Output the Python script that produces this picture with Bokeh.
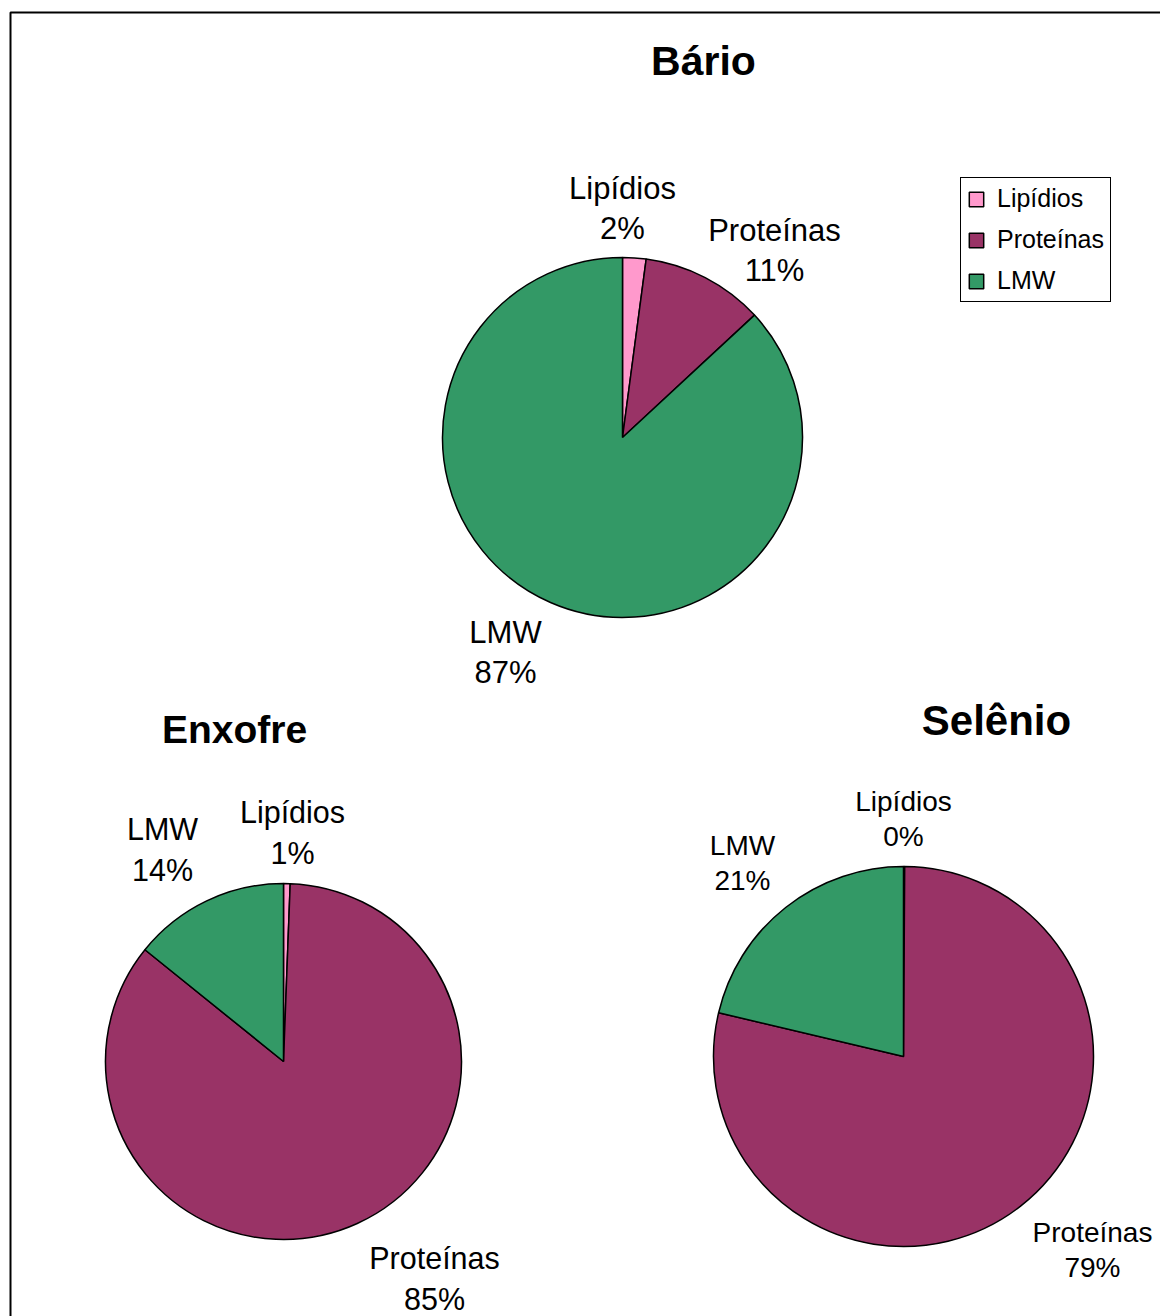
import numpy as np
from bokeh.plotting import figure
from bokeh.models import Range1d, ColumnDataSource, Legend, LegendItem
from bokeh.core.properties import value
from bokeh.embed import file_html
from bokeh.resources import INLINE

# ---------------- data ----------------
categories = ["Lipídios", "Proteínas", "LMW"]
colors = ["#FF99CC", "#993366", "#339966"]
titles = ["Bário", "Enxofre", "Selênio"]
bario = [2.1, 11.0, 86.9]
enxofre = [0.6, 85.2, 14.2]
selenio = [0.1, 78.6, 21.3]
series = [bario, enxofre, selenio]

# ---------------- layout (page pixel coordinates) ----------------
W, H = 1160, 1316
def fx(px):
    return px
def fy(py):
    return H - py

layout = [
    dict(center=(622, 437), r=180, title=(703, 60), tsize="41px",
         labels=[(622, 188), (774, 230), (505, 632)], lsize="31px", gap=40),
    dict(center=(283, 1061), r=178, title=(234, 729), tsize="39px",
         labels=[(292, 811), (434, 1257), (162, 828)], lsize="30.5px", gap=41),
    dict(center=(903, 1056), r=190, title=(996, 720), tsize="42px",
         labels=[(903, 801), (1092, 1232), (742, 845)], lsize="28px", gap=35),
]

p = figure(width=W, height=H, output_backend="svg", toolbar_location=None,
           x_axis_type=None, y_axis_type=None,
           x_range=Range1d(0, W), y_range=Range1d(0, H), min_border=0)
p.grid.visible = False
p.outline_line_color = None
p.background_fill_color = "white"

# outer border
p.quad(left=[fx(10)], right=[fx(2000)], top=[fy(12)], bottom=[fy(2000)],
       fill_color=None, line_color="black", line_width=2)

font = value("Liberation Sans")
bario_renderer = None
for vals, title, lay in zip(series, titles, layout):
    v = np.array(vals, dtype=float)
    frac = v / v.sum()
    c1 = np.cumsum(frac)
    c0 = c1 - frac
    start = np.pi / 2 - 2 * np.pi * c1
    end = np.pi / 2 - 2 * np.pi * c0
    cx, cy = lay["center"]
    src = ColumnDataSource(dict(x=[fx(cx)] * 3, y=[fy(cy)] * 3, start=start, end=end,
                                color=colors, cat=categories))
    r = p.wedge(x="x", y="y", radius=lay["r"], start_angle="start", end_angle="end",
                fill_color="color", line_color="black", line_width=1.5, source=src)
    if bario_renderer is None:
        bario_renderer = r
    # title
    tx, ty = lay["title"]
    p.text(x=[fx(tx)], y=[fy(ty)], text=[title], text_font=font, text_font_style="bold",
           text_font_size=lay["tsize"], text_align="center", text_baseline="middle",
           text_color="black")
    # labels
    lx = [fx(a) for a, b in lay["labels"]]
    ly1 = [fy(b) for a, b in lay["labels"]]
    ly2 = [fy(b + lay["gap"]) for a, b in lay["labels"]]
    pct = [f"{int(round(x))}%" for x in v]
    p.text(x=lx, y=ly1, text=categories, text_font=font, text_font_size=lay["lsize"],
           text_align="center", text_baseline="middle", text_color="black")
    p.text(x=lx, y=ly2, text=pct, text_font=font, text_font_size=lay["lsize"],
           text_align="center", text_baseline="middle", text_color="black")

items = [LegendItem(label=c, renderers=[bario_renderer], index=i) for i, c in enumerate(categories)]
legend = Legend(items=items, location=(fx(960), fy(302)),
                label_text_font="Liberation Sans", label_text_font_size="25px",
                label_text_color="black",
                glyph_width=18, glyph_height=18, label_height=28, spacing=12,
                padding=6, margin=0, label_standoff=12,
                border_line_color="black", border_line_width=1, border_line_alpha=1,
                background_fill_color="white", background_fill_alpha=1)
p.add_layout(legend)

open("out.html", "w").write(file_html(p, INLINE))
